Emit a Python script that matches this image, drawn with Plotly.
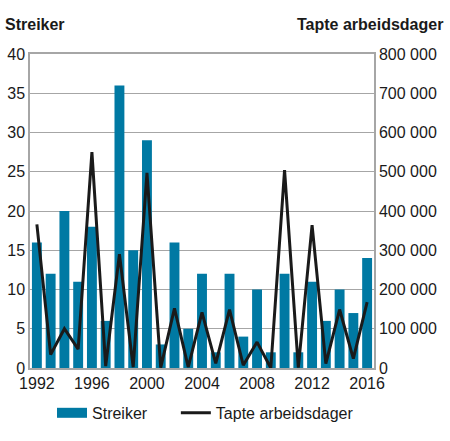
import plotly.graph_objects as go

# Data
aar = list(range(1992, 2017))
streiker = [16, 12, 20, 11, 18, 6, 36, 15, 29, 3, 16, 5, 12, 2, 12, 4, 10, 2, 12, 2, 11, 6, 10, 7, 14]
tapte_dager = [366000, 34000, 100000, 48000, 550000, 5000, 290000, 2000, 497000, 1000,
               152000, 2000, 142000, 12000, 149000, 7000, 66000, 0, 504000, 1000,
               364000, 11000, 149000, 24000, 168000]

venstre_ticks = [0, 5, 10, 15, 20, 25, 30, 35, 40]
hoyre_ticks = [0, 100000, 200000, 300000, 400000, 500000, 600000, 700000, 800000]
hoyre_tekst = ["0", "100 000", "200 000", "300 000", "400 000", "500 000", "600 000", "700 000", "800 000"]
x_ticks = [1992, 1996, 2000, 2004, 2008, 2012, 2016]

blaa = "#0079A3"

fig = go.Figure()

fig.add_trace(go.Bar(
    x=aar, y=streiker, name="Streiker",
    marker=dict(color=blaa, line=dict(width=0)),
    yaxis="y", showlegend=False,
))

# legend entry with a wide rectangle like the original
fig.add_trace(go.Scatter(
    x=[None], y=[None], name="Streiker", mode="lines",
    line=dict(color=blaa, width=10), yaxis="y", legend="legend",
))

fig.add_trace(go.Scatter(
    x=aar, y=tapte_dager, name="Tapte arbeidsdager",
    mode="lines", line=dict(color="#1a1a1a", width=3),
    yaxis="y2", legend="legend2",
))

fig.update_layout(
    width=450, height=441,
    margin=dict(l=30, r=76, t=54, b=73, autoexpand=False),
    paper_bgcolor="white", plot_bgcolor="white",
    font=dict(family="Liberation Sans, Arial, sans-serif", size=15, color="#1a1a1a"),
    bargap=0.28,
    showlegend=True,
    legend=dict(orientation="h", x=0.064, xanchor="left", y=-0.143, yanchor="middle",
                font=dict(size=16)),
    legend2=dict(orientation="h", x=0.424, xanchor="left", y=-0.143, yanchor="middle",
                 font=dict(size=16)),
    xaxis=dict(
        range=[1991.5, 2016.5], tickvals=x_ticks, ticks="", automargin=False,
        showgrid=False, showline=True, linecolor="#a6a6a6", linewidth=1.5,
        mirror=True, zeroline=False, tickfont=dict(size=16),
    ),
    yaxis=dict(
        range=[0, 40], tickvals=venstre_ticks, ticks="", automargin=False,
        showgrid=True, gridcolor="#a6a6a6", gridwidth=1,
        showline=True, linecolor="#a6a6a6", linewidth=1.5, zeroline=False,
        tickfont=dict(size=16),
    ),
    yaxis2=dict(
        range=[0, 800000], tickvals=hoyre_ticks, ticktext=hoyre_tekst, ticks="",
        overlaying="y", side="right", showgrid=False, automargin=False,
        showline=True, linecolor="#a6a6a6", linewidth=1.5, zeroline=False,
        tickfont=dict(size=16),
    ),
    annotations=[
        dict(text="<b>Streiker</b>", xref="paper", yref="paper", x=-0.0785, y=1.062,
             xanchor="left", yanchor="bottom", showarrow=False, font=dict(size=16)),
        dict(text="<b>Tapte arbeidsdager</b>", xref="paper", yref="paper", x=1.206, y=1.062,
             xanchor="right", yanchor="bottom", showarrow=False, font=dict(size=16)),
    ],
)

# drop the default page margin so the figure sits at the window corner
fig.write_html("out.html", config={"displayModeBar": False},
               post_script="document.body.style.margin = '0';")
